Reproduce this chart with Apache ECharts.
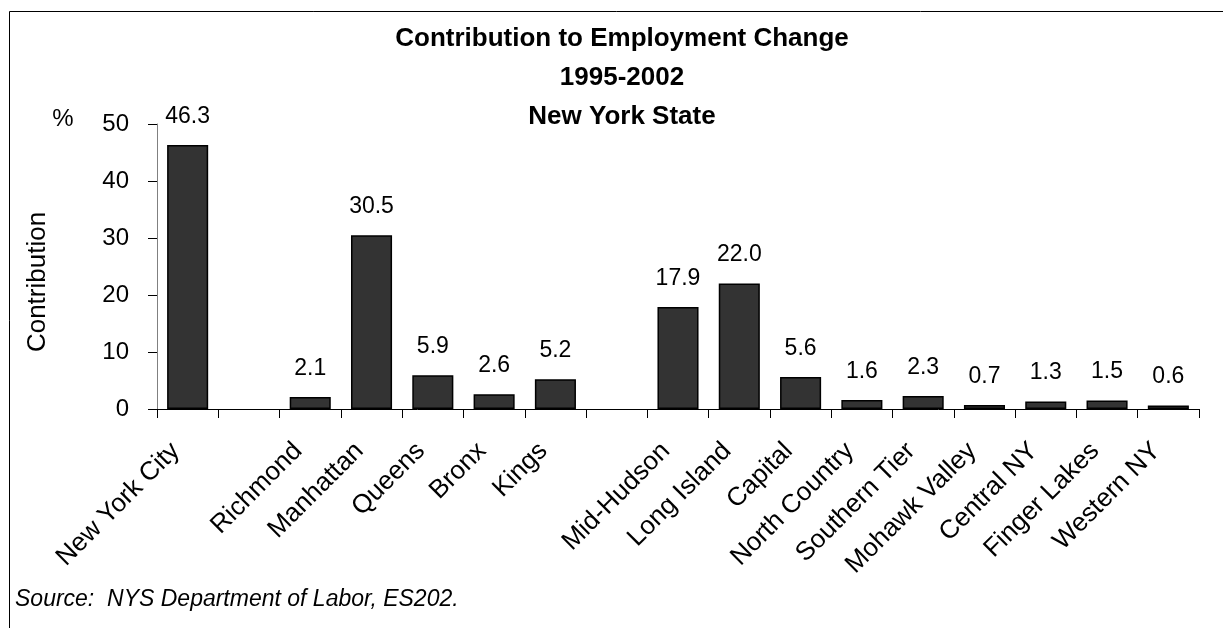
<!DOCTYPE html>
<html>
<head>
<meta charset="utf-8">
<script src="https://cdn.jsdelivr.net/npm/echarts@6/dist/echarts.min.js"></script>
<style>
  html, body { margin: 0; padding: 0; background: #ffffff; }
  #chart { width: 1223px; height: 628px; }
</style>
</head>
<body>
<div id="chart"></div>
<script>
// Regions along the x axis; the whitespace entries are spacer slots between groups.
const regions = [
  'New York City', ' ',
  'Richmond', 'Manhattan', 'Queens', 'Bronx', 'Kings', '  ',
  'Mid-Hudson', 'Long Island', 'Capital', 'North Country', 'Southern Tier',
  'Mohawk Valley', 'Central NY', 'Finger Lakes', 'Western NY'
];
// Contribution to employment change, percent (null = spacer slot).
const contribution = [
  46.3, null,
  2.1, 30.5, 5.9, 2.6, 5.2, null,
  17.9, 22.0, 5.6, 1.6, 2.3, 0.7, 1.3, 1.5, 0.6
];
const yTicks = [0, 10, 20, 30, 40, 50];

const titleLines = ['Contribution to Employment Change', '1995-2002', 'New York State'];
const sourceNote = 'Source:  NYS Department of Labor, ES202.';

const FONT = '"Liberation Sans", Arial, sans-serif';

const chart = echarts.init(document.getElementById('chart'), null, { renderer: 'canvas' });

chart.setOption({
  backgroundColor: '#ffffff',
  animation: false,
  grid: { left: 157, right: 24, top: 124, bottom: 219, containLabel: false },
  title: {
    text: titleLines.join('\n'),
    left: 617,
    top: 14,
    textAlign: 'center',
    textStyle: {
      fontFamily: FONT, fontSize: 26, fontWeight: 'bold', color: '#000', lineHeight: 39
    }
  },
  xAxis: {
    type: 'category',
    data: regions,
    axisLine: { lineStyle: { color: '#000', width: 1 } },
    axisTick: { show: true, length: 9, lineStyle: { color: '#000' } },
    axisLabel: {
      interval: 0, rotate: 45, margin: 26, padding: [0, 17, 0, 0],
      fontFamily: FONT, fontSize: 26, color: '#000'
    },
    splitLine: { show: false }
  },
  yAxis: {
    type: 'value',
    min: yTicks[0],
    max: yTicks[yTicks.length - 1],
    interval: 10,
    axisLine: { show: true, lineStyle: { color: '#808080', width: 1 } },
    axisTick: { show: true, length: 9, lineStyle: { color: '#000' } },
    axisLabel: { margin: 28, fontFamily: FONT, fontSize: 24, color: '#000' },
    splitLine: { show: false }
  },
  series: [{
    type: 'bar',
    data: contribution,
    barCategoryGap: '33%',
    itemStyle: { color: '#333333', borderColor: '#000000', borderWidth: 1.5 },
    label: {
      show: true, position: 'top', distance: 17,
      fontFamily: FONT, fontSize: 23, color: '#000',
      formatter: p => (p.value == null ? '' : Number(p.value).toFixed(1))
    }
  }],
  graphic: [
    // outer frame
    { type: 'rect', shape: { x: 9.5, y: 11.5, width: 1240, height: 640 },
      style: { fill: null, stroke: '#000', lineWidth: 1 }, silent: true },
    { type: 'text', x: 63, y: 119,
      style: { text: '%', fontFamily: FONT, fontSize: 24, fill: '#000',
               align: 'center', verticalAlign: 'middle' } },
    { type: 'text', x: 38, y: 282, rotation: Math.PI / 2,
      style: { text: 'Contribution', fontFamily: FONT, fontSize: 26, fill: '#000',
               align: 'center', verticalAlign: 'middle' } },
    { type: 'text', x: 15, y: 600,
      style: { text: sourceNote, fontFamily: FONT, fontSize: 23, fontStyle: 'italic', fill: '#000',
               align: 'left', verticalAlign: 'middle' } }
  ]
});
</script>
</body>
</html>
